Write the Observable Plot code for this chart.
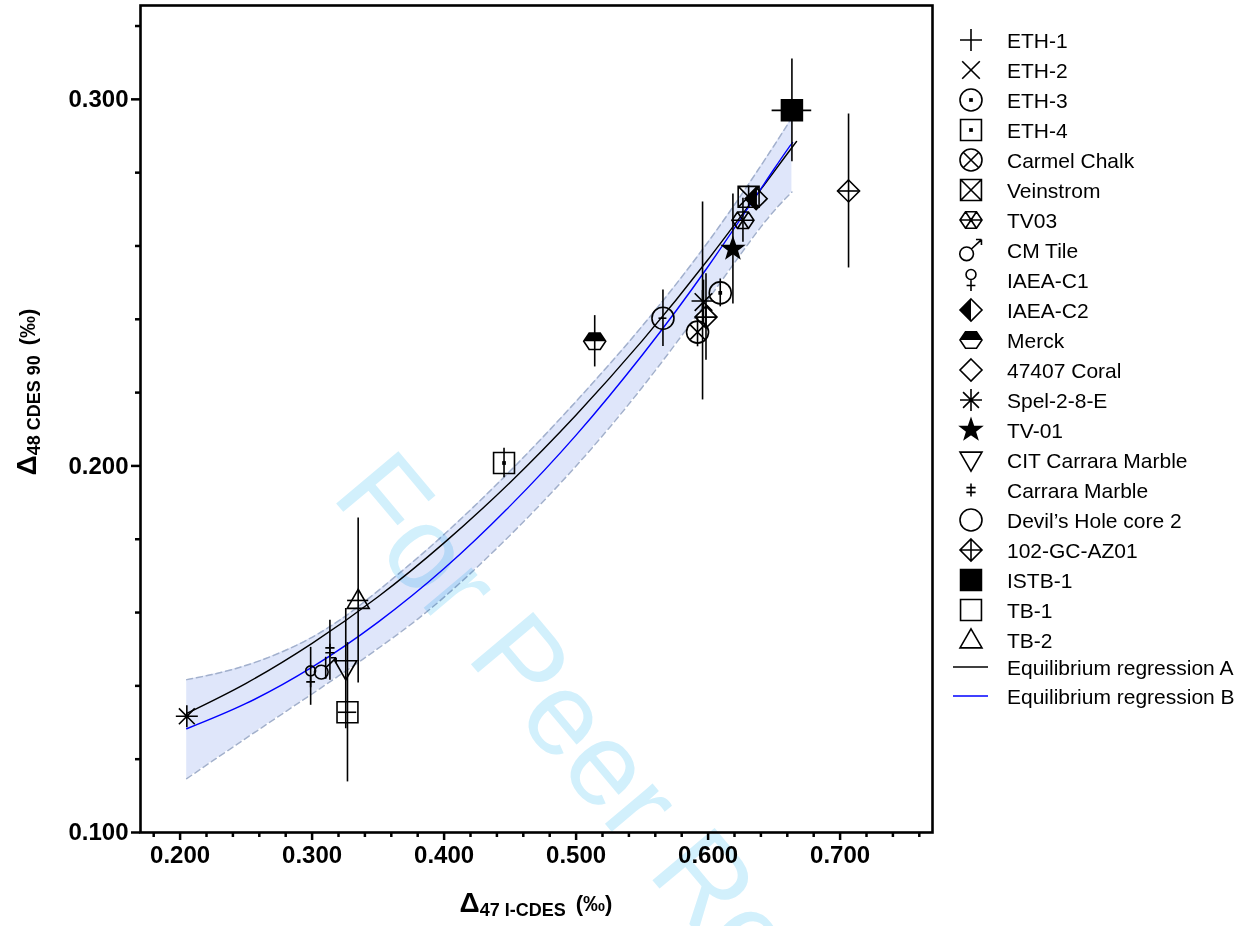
<!DOCTYPE html>
<html><head><meta charset="utf-8">
<script src="https://cdn.jsdelivr.net/npm/d3@7"></script>
<script src="https://cdn.jsdelivr.net/npm/@observablehq/plot@0.6"></script>
<style>
body{margin:0;background:#fff;width:1247px;height:926px;overflow:hidden;position:relative;font-family:"Liberation Sans",Arial,sans-serif;}
#chart{position:absolute;left:0;top:0;}
#legend{position:absolute;left:0;top:0;}
#wm{position:absolute;left:0;top:0;pointer-events:none;mix-blend-mode:multiply;}
</style></head><body>
<div id="chart"></div>
<svg id="legend" width="1247" height="926" style="pointer-events:none"></svg>
<svg id="wm" width="1247" height="926"></svg>
<script>
// ---------- data ----------
const sampleNames = ["ETH-1","ETH-2","ETH-3","ETH-4","Carmel Chalk","Veinstrom","TV03","CM Tile","IAEA-C1","IAEA-C2","Merck","47407 Coral","Spel-2-8-E","TV-01","CIT Carrara Marble","Carrara Marble","Devil’s Hole core 2","102-GC-AZ01","ISTB-1","TB-1","TB-2"];
const d47 = [0.5958,0.5965,0.6092,0.4454,0.5920,0.6307,0.6264,0.3103,0.2989,0.6364,0.5141,0.7064,0.2051,0.6188,0.3255,0.3135,0.5658,0.5984,0.6635,0.3268,0.3349];
const d48 = [0.2450,0.2447,0.2472,0.2008,0.2365,0.2734,0.2670,0.1448,0.1426,0.2729,0.2340,0.2750,0.1317,0.2592,0.1447,0.1497,0.2403,0.2406,0.2970,0.1328,0.1633];
const d47Err = [0,0,0,0,0,0,0,0,0,0,0,0.008,0,0,0,0,0.003,0,0.015,0.007,0.008];
const d48Err = [0.027,0.006,0.0038,0.004,0.004,0.003,0.006,0.003,0.0079,0.003,0.007,0.021,0,0.015,0.0164,0.0082,0.0077,0.0118,0.014,0.019,0.0225];

const regAx = [0.205,0.25,0.30,0.35,0.40,0.45,0.50,0.55,0.60,0.65,0.667];
const regAy = [0.1325,0.1407,0.1516,0.1643,0.1790,0.1955,0.2139,0.2341,0.2563,0.2803,0.2885];
const regBx = [0.205,0.25,0.30,0.35,0.40,0.45,0.50,0.55,0.60,0.65,0.664];
const regBy = [0.1283,0.1352,0.1451,0.1574,0.1720,0.1891,0.2084,0.2302,0.2544,0.2810,0.2882];

const bandX  = [0.205,0.24,0.28,0.32,0.36,0.40,0.45,0.50,0.55,0.60,0.64,0.6635];
const bandHi = [0.1417,0.1445,0.1497,0.1577,0.1689,0.1813,0.1986,0.2176,0.2381,0.2611,0.2819,0.2950];
const bandLo = [0.1147,0.1233,0.1330,0.1427,0.1528,0.1642,0.1811,0.2000,0.2214,0.2454,0.2652,0.2747];

const xMajor = [0.2,0.3,0.4,0.5,0.6,0.7];
const xMinor = [0.18,0.22,0.24,0.26,0.28,0.32,0.34,0.36,0.38,0.42,0.44,0.46,0.48,0.52,0.54,0.56,0.58,0.62,0.64,0.66,0.68,0.72,0.74,0.76];
const yMajor = [0.1,0.2,0.3];
const yMinor = [0.12,0.14,0.16,0.18,0.22,0.24,0.26,0.28,0.32];
const lineNames = ["Equilibrium regression A","Equilibrium regression B"];

// ---------- symbols ----------
const TAU = 2*Math.PI;
function poly(c,p){c.moveTo(p[0][0],p[0][1]);for(let i=1;i<p.length;i++)c.lineTo(p[i][0],p[i][1]);c.closePath();}
function seg(c,a,b,d,e){c.moveTo(a,b);c.lineTo(d,e);}
function circ(c,x,y,r){c.moveTo(x+r,y);c.arc(x,y,r,0,TAU);}
const shapes = {
  plus:(c,R)=>{seg(c,-R,0,R,0);seg(c,0,-R,0,R);},
  times:(c,R)=>{const a=0.8*R;seg(c,-a,-a,a,a);seg(c,a,-a,-a,a);},
  asterisk:(c,R)=>{seg(c,-R,0,R,0);seg(c,0,-R,0,R);const a=0.72*R;seg(c,-a,-a,a,a);seg(c,a,-a,-a,a);},
  circle:(c,R)=>circ(c,0,0,R),
  square:(c,R)=>{const s=0.95*R;c.rect(-s,-s,2*s,2*s);},
  dot:(c,R)=>{const s=0.17*R;c.rect(-s,-s,2*s,2*s);},
  circleX:(c,R)=>{circ(c,0,0,R);const a=R*Math.SQRT1_2;seg(c,-a,-a,a,a);seg(c,a,-a,-a,a);},
  squareX:(c,R)=>{const s=0.95*R;c.rect(-s,-s,2*s,2*s);seg(c,-s,-s,s,s);seg(c,s,-s,-s,s);},
  hexagon:(c,R)=>{const h=0.75*R;poly(c,[[-R,0],[-R/2,-h],[R/2,-h],[R,0],[R/2,h],[-R/2,h]]);},
  hexStar:(c,R)=>{const h=0.75*R;poly(c,[[-R,0],[-R/2,-h],[R/2,-h],[R,0],[R/2,h],[-R/2,h]]);seg(c,-R,0,R,0);seg(c,-R/2,-h,R/2,h);seg(c,R/2,-h,-R/2,h);},
  hexTop:(c,R)=>{const h=0.75*R;poly(c,[[-R,0],[-R/2,-h],[R/2,-h],[R,0]]);},
  diamond:(c,R)=>poly(c,[[0,-R],[R,0],[0,R],[-R,0]]),
  diamondLeft:(c,R)=>poly(c,[[0,-R],[0,R],[-R,0]]),
  diamondPlus:(c,R)=>{poly(c,[[0,-R],[R,0],[0,R],[-R,0]]);seg(c,-R,0,R,0);seg(c,0,-R,0,R);},
  star:(c,R)=>{const p=[];for(let i=0;i<10;i++){const r=i%2?0.4*R:R;const a=-Math.PI/2+i*Math.PI/5;p.push([r*Math.cos(a),r*Math.sin(a)]);}poly(c,p);},
  triDown:(c,R)=>poly(c,[[-R,-0.72*R],[R,-0.72*R],[0,1.02*R]]),
  triUp:(c,R)=>poly(c,[[0,-1.02*R],[R,0.72*R],[-R,0.72*R]]),
  male:(c,R)=>{const cx=-0.4*R,cy=0.35*R,r=0.62*R;circ(c,cx,cy,r);const k=r*Math.SQRT1_2;const tx=0.95*R,ty=-0.95*R;seg(c,cx+k,cy-k,tx,ty);seg(c,tx,ty,tx-0.5*R,ty);seg(c,tx,ty,tx,ty+0.5*R);},
  female:(c,R)=>{const r=0.45*R;circ(c,0,-0.5*R,r);seg(c,0,-0.05*R,0,R);seg(c,-0.4*R,0.5*R,0.4*R,0.5*R);},
  dagger:(c,R)=>{seg(c,0,-0.6*R,0,0.6*R);seg(c,-0.42*R,-0.22*R,0.42*R,-0.22*R);seg(c,-0.42*R,0.22*R,0.42*R,0.22*R);}
};
// layers: [shape, mode]  s = stroke only, f = fill only, fs = fill + stroke
const look = {
  "ETH-1":[["plus","s"]], "ETH-2":[["times","s"]],
  "ETH-3":[["circle","s"],["dot","f"]], "ETH-4":[["square","s"],["dot","f"]],
  "Carmel Chalk":[["circleX","s"]], "Veinstrom":[["squareX","s"]], "TV03":[["hexStar","s"]],
  "CM Tile":[["male","s"]], "IAEA-C1":[["female","s"]],
  "IAEA-C2":[["diamondLeft","f"],["diamond","s"]], "Merck":[["hexTop","f"],["hexagon","s"]],
  "47407 Coral":[["diamond","s"]], "Spel-2-8-E":[["asterisk","s"]], "TV-01":[["star","fs"]],
  "CIT Carrara Marble":[["triDown","s"]], "Carrara Marble":[["dagger","s"]],
  "Devil’s Hole core 2":[["circle","s"]], "102-GC-AZ01":[["diamondPlus","s"]],
  "ISTB-1":[["square","fs"]], "TB-1":[["square","s"]], "TB-2":[["triUp","s"]]
};
const symObj = f => ({draw(ctx,size){ f(ctx, Math.sqrt(size/Math.PI)); }});
const modeStyle = m => m==="s" ? {fill:"none",stroke:"black"} : m==="f" ? {fill:"black",stroke:"none"} : {fill:"black",stroke:"black"};

// ---------- tables ----------
const rows = sampleNames.map((name,i)=>({name,x:d47[i],y:d48[i],ex:d47Err[i],ey:d48Err[i]}));
const regA = regAx.map((x,i)=>({x,y:regAy[i]}));
const regB = regBx.map((x,i)=>({x,y:regBy[i]}));
const band = bandX.map((x,i)=>({x,lo:bandLo[i],hi:bandHi[i]}));

const R = 11;
const symbolMarks = [];
rows.forEach(d=>{
  look[d.name].forEach(([shape,mode])=>{
    symbolMarks.push(Plot.dot([d],{x:"x",y:"y",r:R,symbol:symObj(shapes[shape]),...modeStyle(mode),strokeWidth:1.6}));
  });
});

const fmt = d3.format(".3f");
const svg = Plot.plot({
  width:940, height:926,
  marginLeft:140, marginRight:8, marginTop:5, marginBottom:94,
  style:{fontFamily:"Liberation Sans, Arial, sans-serif",background:"transparent",color:"black"},
  x:{domain:[0.17,0.77],label:null},
  y:{domain:[0.1,0.3256],label:null},
  marks:[
    Plot.areaY(band,{x:"x",y1:"lo",y2:"hi",fill:"#dfe6fa",curve:"natural"}),
    Plot.line(band,{x:"x",y:"hi",stroke:"#a2b0cc",strokeWidth:1.5,strokeDasharray:"6,4",curve:"natural"}),
    Plot.line(band,{x:"x",y:"lo",stroke:"#a2b0cc",strokeWidth:1.5,strokeDasharray:"6,4",curve:"natural"}),
    Plot.line(regA,{x:"x",y:"y",stroke:"black",strokeWidth:1.4,curve:"natural"}),
    Plot.line(regB,{x:"x",y:"y",stroke:"#0000ff",strokeWidth:1.4,curve:"natural"}),
    Plot.ruleX(rows.filter(d=>d.ey>0),{x:"x",y1:d=>d.y-d.ey,y2:d=>d.y+d.ey,stroke:"black",strokeWidth:1.6}),
    Plot.ruleY(rows.filter(d=>d.ex>0),{y:"y",x1:d=>d.x-d.ex,x2:d=>d.x+d.ex,stroke:"black",strokeWidth:1.6}),
    ...symbolMarks,
    Plot.frame({stroke:"black",strokeWidth:2.6}),
    Plot.axisX(xMajor,{tickSize:8,tickPadding:5,tickFormat:fmt,fontSize:24,fontWeight:"bold",strokeWidth:2.5,label:null}),
    Plot.axisX(xMinor,{tickSize:5,tickFormat:()=>"",strokeWidth:2.5,label:null}),
    Plot.axisY(yMajor,{tickSize:9,tickPadding:3,tickFormat:fmt,fontSize:24,fontWeight:"bold",strokeWidth:2.5,label:null}),
    Plot.axisY(yMinor,{tickSize:5,tickFormat:()=>"",strokeWidth:2.5,label:null})
  ]
});
document.getElementById("chart").append(svg);

// axis titles
const s = d3.select(svg);
const xl = s.append("text").attr("x",536).attr("y",912).attr("text-anchor","middle")
  .attr("font-weight","bold").attr("fill","black").attr("font-family","Liberation Sans, Arial, sans-serif");
xl.append("tspan").attr("font-size",28).text("Δ");
xl.append("tspan").attr("font-size",18).attr("dy",4).text("47 I-CDES");
xl.append("tspan").attr("font-size",22).attr("dy",-5).attr("dx",10).text("(‰)");
const yl = s.append("text").attr("transform","translate(36,392) rotate(-90)").attr("text-anchor","middle")
  .attr("font-weight","bold").attr("fill","black").attr("font-family","Liberation Sans, Arial, sans-serif");
yl.append("tspan").attr("font-size",28).text("Δ");
yl.append("tspan").attr("font-size",18).attr("dy",4).text("48 CDES 90");
yl.append("tspan").attr("font-size",22).attr("dy",-5).attr("dx",10).text("(‰)");

// ---------- legend ----------
const lg = d3.select("#legend");
const lgX = 971, txtX = 1007, y0 = 40, dy = 30;
sampleNames.forEach((name,i)=>{
  const cy = y0 + i*dy;
  look[name].forEach(([shape,mode])=>{
    const p = d3.path(); shapes[shape](p,R);
    const st = modeStyle(mode);
    lg.append("path").attr("d",p.toString()).attr("transform",`translate(${lgX},${cy})`)
      .attr("fill",st.fill).attr("stroke",st.stroke).attr("stroke-width",1.6);
  });
  lg.append("text").attr("x",txtX).attr("y",cy).attr("dy","0.36em").attr("font-size",21)
    .attr("font-family","Liberation Sans, Arial, sans-serif").attr("fill","black").text(name);
});
const lineColors = ["black","#0000ff"];
lineNames.forEach((name,i)=>{
  const cy = y0 + sampleNames.length*dy - 3 + i*29;
  lg.append("line").attr("x1",953).attr("x2",988).attr("y1",cy).attr("y2",cy).attr("stroke",lineColors[i]).attr("stroke-width",1.5);
  lg.append("text").attr("x",txtX).attr("y",cy).attr("dy","0.36em").attr("font-size",21)
    .attr("font-family","Liberation Sans, Arial, sans-serif").attr("fill","black").text(name);
});

// ---------- watermark ----------
d3.select("#wm").append("text").attr("transform","translate(330,496) rotate(50)")
  .attr("font-size",118).attr("font-family","Liberation Sans, Arial, sans-serif")
  .attr("fill","#d2f0fc").text("For Peer Review");
</script>
</body></html>
